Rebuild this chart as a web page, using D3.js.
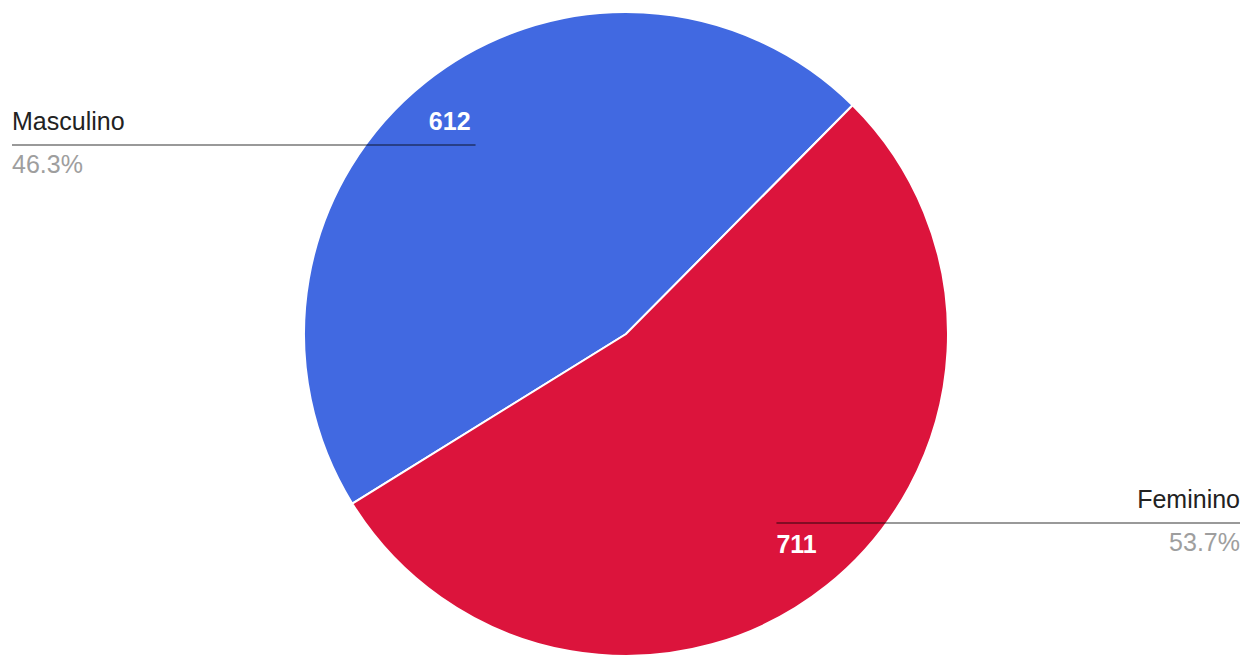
<!DOCTYPE html>
<html>
<head>
<meta charset="utf-8">
<script src="https://cdn.jsdelivr.net/npm/d3@7"></script>
<style>
  body { margin: 0; background: #fff; }
  svg { display: block; font-family: "Liberation Sans", Arial, sans-serif; }
</style>
</head>
<body>
<script>
'use strict';

// chart data
const labels = ["Masculino", "Feminino"];
const values = [612, 711];
const colors = ["#4169e1", "#dc143c"];

(function() {
  const width = 1253, height = 659;
  const cx = 626, cy = 334, radius = 322;
  // first slice starts here (degrees clockwise from 12 o'clock)
  const startDeg = -121.8;

  let svg = d3.select('body')
    .append('svg')
    .attr('width', width)
    .attr('height', height);

  let total = d3.sum(values);
  let rows = labels.map((l, i) => ({ label: l, value: values[i], color: colors[i] }));

  let pie = d3.pie()
    .sort(null)
    .value((d) => d.value)
    .startAngle(startDeg * Math.PI / 180)
    .endAngle((startDeg + 360) * Math.PI / 180);

  let arc = d3.arc().innerRadius(0).outerRadius(radius);
  // used to find where the legend line meets the slice
  let anchorArc = d3.arc().innerRadius(radius * 0.75).outerRadius(radius * 0.75);

  let g = svg.append('g').attr('transform', 'translate(' + cx + ',' + cy + ')');
  let arcs = pie(rows);

  g.selectAll('path')
    .data(arcs)
    .enter()
    .append('path')
      .attr('d', arc)
      .attr('fill', (d) => d.data.color)
      .attr('stroke', '#fff')
      .attr('stroke-width', 2);

  let fmt = d3.format('.1f');

  // labeled legend: line from slice to side of chart
  arcs.forEach((d) => {
    let p = anchorArc.centroid(d);
    let px = cx + p[0], py = cy + p[1];
    let left = px < cx;
    let edge = left ? 12 : 1240;
    let anchor = left ? 'start' : 'end';

    svg.append('line')
      .attr('x1', edge).attr('x2', px)
      .attr('y1', py).attr('y2', py)
      .attr('stroke', 'rgba(0,0,0,0.4)')
      .attr('stroke-width', 2);

    svg.append('text')
      .attr('x', edge)
      .attr('y', py - 15)
      .attr('text-anchor', anchor)
      .style('font-size', '25px')
      .attr('fill', '#222')
      .text(d.data.label);

    svg.append('text')
      .attr('x', edge)
      .attr('y', py + 28)
      .attr('text-anchor', anchor)
      .style('font-size', '25px')
      .attr('fill', '#9e9e9e')
      .text(fmt(d.data.value / total * 100) + '%');

    // value inside the slice
    svg.append('text')
      .attr('x', left ? px - 5 : px)
      .attr('y', left ? py - 15 : py + 30)
      .attr('text-anchor', left ? 'end' : 'start')
      .style('font-size', '25px')
      .style('font-weight', 'bold')
      .attr('fill', '#fff')
      .text(d.data.value);
  });
})();
</script>
</body>
</html>
